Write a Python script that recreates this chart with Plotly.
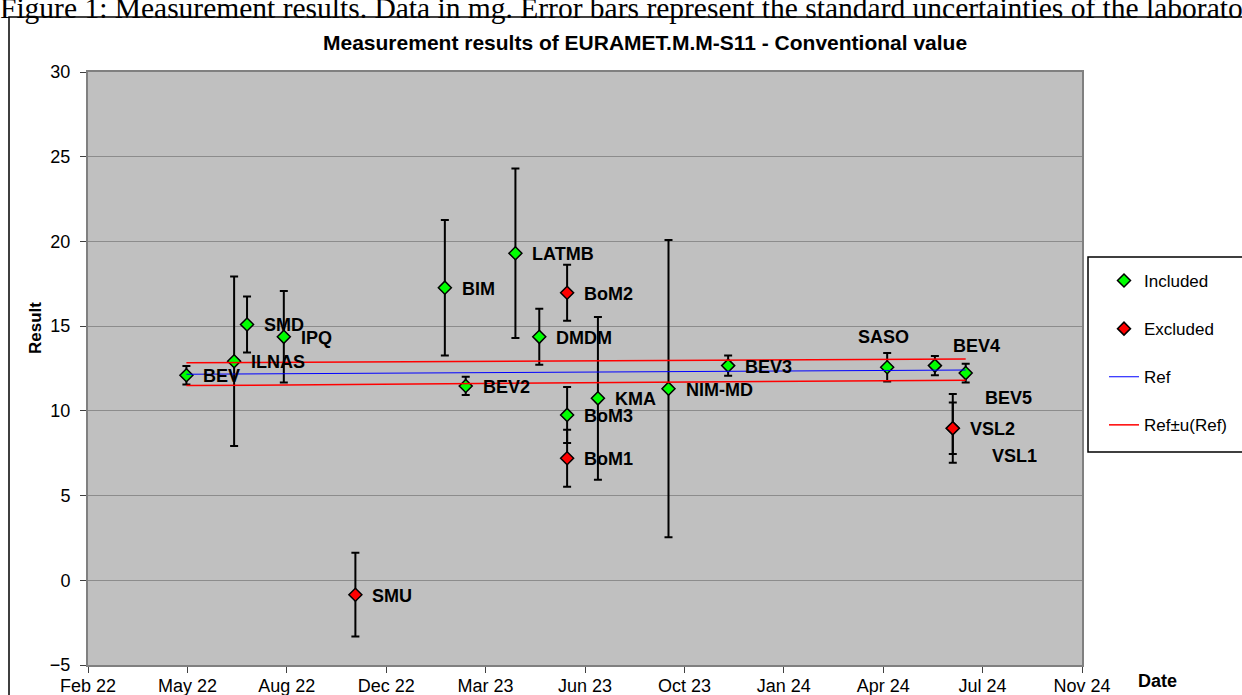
import plotly.graph_objects as go

# ---------------- data ----------------
inc_labels = ["BEV", "ILNAS", "SMD", "IPQ", "BIM", "BEV2", "LATMB", "DMDM", "BoM3", "KMA",
              "NIM-MD", "BEV3", "SASO", "BEV4", "VSL1", "BEV5"]
inc_dates = ["2022-05-18", "2022-07-05", "2022-07-18", "2022-08-24", "2023-02-02", "2023-02-23",
             "2023-04-14", "2023-05-08", "2023-06-05", "2023-07-06", "2023-09-15", "2023-11-14",
             "2024-04-22", "2024-06-09", "2024-06-27", "2024-07-10"]
inc_values = [12.10, 12.93, 15.10, 14.37, 17.27, 11.47, 19.30, 14.37, 9.76, 10.74,
              11.31, 12.67, 12.57, 12.67, 8.97, 12.23]
inc_unc = [0.55, 5.00, 1.65, 2.70, 4.00, 0.54, 5.00, 1.65, 1.65, 4.80,
           8.77, 0.60, 0.84, 0.57, 1.52, 0.55]

exc_labels = ["SMU", "BoM2", "BoM1", "VSL2"]
exc_dates = ["2022-11-04", "2023-06-05", "2023-06-05", "2024-06-27"]
exc_values = [-0.85, 16.97, 7.20, 8.97]
exc_unc = [2.47, 1.65, 1.68, 2.03]

ref_dates = ["2022-05-18", "2024-07-10"]
ref_values = [12.16, 12.41]
ref_upper = [12.84, 13.06]
ref_lower = [11.49, 11.81]

tick_dates = ["2022-02-08", "2022-05-19", "2022-08-27", "2022-12-05", "2023-03-15", "2023-06-23",
              "2023-10-01", "2024-01-09", "2024-04-18", "2024-07-27", "2024-11-04"]
tick_labels = ["Feb 22", "May 22", "Aug 22", "Dec 22", "Mar 23", "Jun 23",
               "Oct 23", "Jan 24", "Apr 24", "Jul 24", "Nov 24"]
y_ticks = [-5, 0, 5, 10, 15, 20, 25, 30]

# label offsets (px) for data labels: (xshift, yshift, xanchor)
label_offsets = {
    "SASO": (-4, 30, "center"),
    "BEV4": (16, 20, "left"),
    "BEV5": (17, -25, "left"),
    "VSL1": (37, -28, "left"),
}
default_offset = (15, -1, "left")

FONT = "Liberation Sans, Arial, sans-serif"

# plot-area geometry in pixels
L, R, T, B = 88, 1082, 72, 665
W, H = R - L, B - T


def px(xp):
    return (xp - L) / W


def py(yp):
    return 1 - (yp - T) / H


fig = go.Figure()

marker_line = dict(color="black", width=1.5)
err_style = dict(type="data", symmetric=True, color="black", thickness=2, width=4)

fig.add_trace(go.Scatter(
    x=inc_dates, y=inc_values, mode="markers", name="Included",
    marker=dict(symbol="diamond", size=10, color="#00FF00", line=marker_line),
    error_y=dict(array=inc_unc, **err_style),
    legendgroup="a",
))
fig.add_trace(go.Scatter(
    x=exc_dates, y=exc_values, mode="markers", name="Excluded",
    marker=dict(symbol="diamond", size=10, color="#FF0000", line=marker_line),
    error_y=dict(array=exc_unc, **err_style),
    legendgroup="b",
))
fig.add_trace(go.Scatter(
    x=ref_dates, y=ref_values, mode="lines", name="Ref",
    line=dict(color="#0000FF", width=1), legendgroup="c",
))
fig.add_trace(go.Scatter(
    x=ref_dates + [None] + ref_dates, y=ref_upper + [None] + ref_lower,
    mode="lines", name="Ref\u00b1u(Ref)",
    line=dict(color="#FF0000", width=1.5), legendgroup="d", connectgaps=False,
))

# data labels
for labels, dates, values in [(inc_labels, inc_dates, inc_values), (exc_labels, exc_dates, exc_values)]:
    for lab, d, v in zip(labels, dates, values):
        xs, ys, xa = label_offsets.get(lab, default_offset)
        fig.add_annotation(x=d, y=v, xref="x", yref="y", text=lab, showarrow=False,
                           xanchor=xa, yanchor="middle", xshift=xs, yshift=ys,
                           font=dict(family=FONT, size=18, color="black", weight="bold"))

# chart title
fig.add_annotation(text="<b>Measurement results of EURAMET.M.M-S11 - Conventional value</b>",
                   xref="paper", yref="paper", x=px(645), y=py(42),
                   xanchor="center", yanchor="middle", showarrow=False,
                   font=dict(family=FONT, size=21, color="black"))
# caption (running off the page as in the source document)
fig.add_annotation(text="Figure 1: Measurement results. Data in mg. Error bars represent the standard uncertainties of the laboratories",
                   xref="paper", yref="paper", x=px(-2), y=py(8),
                   xanchor="left", yanchor="middle", showarrow=False,
                   font=dict(family="Liberation Serif, Times New Roman, serif", size=29.5, color="black"))
# axis titles
fig.add_annotation(text="<b>Result</b>", xref="paper", yref="paper",
                   x=px(35), y=py(328), textangle=-90,
                   xanchor="center", yanchor="middle", showarrow=False,
                   font=dict(family=FONT, size=17, color="black"))
fig.add_annotation(text="<b>Date</b>", xref="paper", yref="paper",
                   x=px(1157), y=py(681),
                   xanchor="center", yanchor="middle", showarrow=False,
                   font=dict(family=FONT, size=18, color="black"))

# outer chart frame
fig.add_shape(type="rect", xref="paper", yref="paper",
              x0=px(9), x1=px(1260), y0=py(720), y1=py(17),
              line=dict(color="black", width=1.5), fillcolor="rgba(0,0,0,0)", layer="below")
# legend box
fig.add_shape(type="rect", xref="paper", yref="paper",
              x0=px(1088), x1=px(1260), y0=py(452), y1=py(257),
              line=dict(color="black", width=1.5), fillcolor="white", layer="above")

fig.update_layout(
    width=1242, height=695,
    margin=dict(l=L, r=1242 - R, t=T, b=695 - B, autoexpand=False),
    paper_bgcolor="white", plot_bgcolor="#C0C0C0",
    font=dict(family=FONT, size=18, color="black"),
    showlegend=True,
    legend=dict(x=px(1104), y=py(263), xanchor="left", yanchor="top",
                bgcolor="rgba(0,0,0,0)", borderwidth=0,
                font=dict(family=FONT, size=17, color="black"),
                tracegroupgap=23, itemwidth=30),
    xaxis=dict(type="date", range=[tick_dates[0], tick_dates[-1]],
               tickmode="array", tickvals=tick_dates, ticktext=tick_labels,
               showgrid=False, zeroline=False, showline=True, linecolor="#808080", linewidth=2,
               mirror=True, ticks="outside", ticklen=6, tickcolor="#404040", tickwidth=1,
               tickfont=dict(size=18), ticklabelstandoff=-3, automargin=False),
    yaxis=dict(range=[-5, 30], tickmode="array", tickvals=y_ticks,
               showgrid=True, gridcolor="#8C8C8C", gridwidth=1, zeroline=False,
               showline=True, linecolor="#808080", linewidth=2, mirror=True,
               ticks="outside", ticklen=6, tickcolor="#404040", tickwidth=1,
               tickfont=dict(size=18), ticklabelstandoff=6, automargin=False),
)

fig.write_html("out.html", config={"displayModeBar": False},
               post_script="document.body.style.margin='0';document.body.style.overflow='hidden';")
